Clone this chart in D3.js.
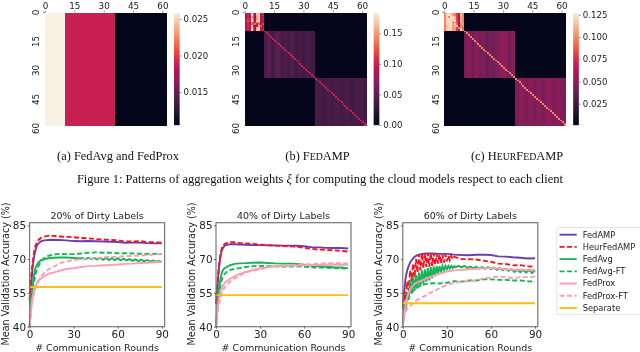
<!DOCTYPE html>
<html>
<head>
<meta charset="utf-8">
<script src="https://cdn.jsdelivr.net/npm/d3@7"></script>
<style>
  html, body { margin: 0; padding: 0; background: #fff; overflow: hidden; }
  svg { display: block; filter: blur(0.35px); }
  text { fill: #222; }
  .serif { font-family: "Liberation Serif", serif; fill: #111; }
  .sans { font-family: "DejaVu Sans", sans-serif; }
  .tick text { font-family: "DejaVu Sans", sans-serif; fill: #222; }
</style>
</head>
<body>
<div id="fig"></div>
<script>
// ---- heatmap data (62 clients, three blocks 0-10, 10-36, 36-62)
var blockEdges = [0, 10, 36, 62];
var heatTicks = [0, 15, 30, 45, 60];
var rocketStops = ["#03051a", "#221331", "#451c47", "#6a1f56", "#921c5b", "#b91657", "#dc2f4a", "#f06043", "#f6906b", "#f7bf9f", "#faebdd"];

var fedavgWeights = [0.026, 0.0188, 0.0105];
var fedavgDomain = [0.0105, 0.0258];
var fedavgCbTicks = [0.015, 0.020, 0.025];

var fedampBlock = [
  [.09,.10,.09,.17,.12,.08,.16,.17,.09,.10],
  [.09,.10,.10,.17,.13,.08,.16,.17,.09,.10],
  [.08,.10,.09,.15,.12,.07,.15,.17,.08,.09],
  [.09,.11,.10,.17,.12,.08,.15,.17,.09,.10],
  [.10,.12,.10,.18,.13,.09,.16,.18,.09,.09],
  [.08,.10,.09,.13,.09,.11,.15,.13,.08,.08],
  [.08,.11,.08,.13,.12,.13,.10,.13,.08,.12],
  [.09,.10,.10,.17,.10,.07,.09,.16,.12,.08],
  [.09,.10,.09,.17,.12,.08,.16,.17,.09,.10],
  [.09,.10,.09,.17,.12,.08,.16,.17,.09,.10]
];
var fedampCols = [.039,.041,.047,.035,.040,.045,.041,.037,.035,.041,.039,.043,.049,.039,.035,.041,.051,.045,.039,.035,.041,.039,.035,.043,.041,.035,
  .035,.037,.039,.036,.033,.038,.040,.035,.034,.037,.039,.036,.038,.035,.034,.037,.039,.038,.035,.036,.039,.040,.037,.035,.038,.036,.039,.037,.035,.034,.036,.038,.037,.039,.036,.035];
var fedampDiag = 0.098;
var fedampDomain = [0, 0.183];
var fedampCbTicks = [0, 0.05, 0.10, 0.15];

var heurBlock = [
  [.095,.115,.12,.12,.105,.10,.08,.06,.11,.10],
  [.10,.12,.125,.12,.105,.095,.08,.065,.115,.10],
  [.10,.12,.10,.125,.12,.11,.08,.06,.11,.10],
  [.10,.12,.125,.12,.125,.11,.08,.06,.11,.10],
  [.10,.12,.125,.12,.115,.125,.085,.065,.11,.10],
  [.10,.12,.12,.125,.10,.095,.085,.06,.11,.10],
  [.10,.115,.12,.125,.105,.12,.09,.055,.10,.105],
  [.095,.115,.12,.125,.105,.11,.12,.06,.095,.10],
  [.10,.115,.12,.12,.105,.105,.08,.10,.105,.09],
  [.10,.115,.12,.12,.105,.105,.08,.06,.125,.10]
];
var heurCols = [.044,.040,.042,.038,.046,.044,.040,.042,.048,.046,.042,.046,.050,.044,.040,.046,.050,.046,.042,.044,.046,.040,.038,.044,.042,.040,
  .044,.046,.048,.050,.052,.048,.044,.042,.046,.048,.046,.044,.050,.052,.048,.046,.044,.050,.048,.046,.044,.048,.050,.046,.044,.046,.048,.052,.050,.046,.044,.048,.050,.046,.044,.046];
var heurDiag = 0.098;
var heurDomain = [0.001, 0.127];
var heurCbTicks = [0.025, 0.050, 0.075, 0.100, 0.125];

// ---- accuracy curves
var rounds = [0,1,2,3,4,5,6,8,10,13,16,20,25,30,35,40,45,50,55,60,65,70,75,80,85,90];
var roundsEnds = [0, 90];
var tailRounds = d3.range(36, 91, 2);
var roundsAvg20 = rounds.slice(0, 15).concat(tailRounds);
var roundsAvg60 = d3.range(0, 36).concat(tailRounds);
var roundsHeur60 = d3.range(0, 36).concat([40,45,50,55,60,65,70,75,80,85,90]);

var seriesNames = ["FedAMP", "HeurFedAMP", "FedAvg", "FedAvg-FT", "FedProx", "FedProx-FT", "Separate"];
var seriesColors = ["#6a3db5", "#f5141e", "#17b455", "#17b455", "#ff9db4", "#ff9db4", "#ffbf0f"];
var seriesDash = [null, "5,2.5", null, "5,2.5", null, "5,2.5", null];
var panelTitles = ["20% of Dirty Labels", "40% of Dirty Labels", "60% of Dirty Labels"];
var xTicks = [0, 30, 60, 90];
var yTicks = [40, 55, 70, 85];

var amp20 = [51,58,66,71,74,76,77,78,78.3,78.5,78.6,78.5,78.3,78,77.9,78,77.9,77.8,77.7,77.6,77.2,77.3,77.3,77.1,77,77];
var heur20 = [52,62,68,73,76,77.5,78.5,79.5,80,80.4,80.3,80,79.9,79.7,79.4,79.2,78.9,78.7,78.5,78.3,77.8,77.8,78,77.5,77.5,77.2];
var avg20 = [40,52,58,63,66,67.5,68.5,69.7,70,70.4,70.6,70.7,70.7,70.5,70.3,
  70.6,70,70.6,70,70.5,69.9,70.6,69.7,70.5,69.6,70.4,69.5,70.4,69.4,70.2,69.4,70,69.2,69.9,69.1,69.8,69,69.6,68.9,69.4,68.9,69.2,68.8];
var avgFt20 = [40,50,56,60,63,65.5,67,69,70.5,71.5,72,72.3,72.2,72.2,72.5,72.8,73,72.8,72.8,72.6,72.6,72.5,72.4,72.3,72.3,72.2];
var prox20 = [40,48,53,56,58,59.5,60.5,61.5,62.5,63.5,64,64.8,65.6,66,66.5,66.9,67,67.3,67.4,67.6,67.9,68,68.3,68.4,68.6,68.8];
var proxFt20 = [40,47,52,55,57,58.5,60,62.5,64,65.5,66.5,68,69,69.5,70,70.3,70.4,70.8,71,71,71.3,71.4,71.5,71.8,72,72.4];
var sep20 = [57.6, 57.6];

var amp40 = [50,58,66,71,74,75.2,76,76.4,76.6,76.6,76.5,76.4,76.2,76.2,76.1,76.1,76,76,75.9,75.7,75.3,75.2,75,74.9,74.9,74.7];
var heur40 = [50,60,67,72,75,76.3,76.8,77.3,77.5,77.5,77.2,77,76.8,76.4,76.2,76,75.8,75.7,75.5,75,74.6,74.2,74.1,73.9,73.7,73.3];
var avg40 = [40,50,57,61,64,65.5,66,66.8,67.4,67.9,68.1,68.2,68.4,68.5,68.3,68.1,68,68,67.9,67.5,67,66.8,66.6,66.4,66.3,66];
var avgFt40 = [40,48,54,58,61,62.5,63.5,64.8,65.2,65.7,66,66.5,66.8,67,66.9,66.8,66.7,66.7,66.8,66.6,66.4,66.2,66.2,66,65.9,65.8];
var prox40 = [40,48,52,55,57,58.5,59.5,60.5,61.5,62.5,63.3,64.3,65.2,66,66.4,66.9,67,67.1,67.1,67.3,67.4,67.4,67.5,67.6,67.5,67.5];
var proxFt40 = [40,46,50,53,55,56.5,57.5,59,60.3,61.5,62.7,64,65,65.5,66.3,66.8,67,67.2,67.4,67.6,67.7,68,68.1,68.2,68.3,68];
var sep40 = [54, 54];

var amp60 = [48,56,62,65,67,68.5,69.5,71,71.8,72.3,72.5,72.5,72.3,72.3,72,71.8,71.7,71.9,72,71.8,71.2,71.1,70.8,70.6,70.3,70.4];
var heur60 = [48,56,52,60,56,65,60,68,62,70,64,72,65,72.5,66,72.5,66.5,72.5,66.5,72.5,67,72.5,67.5,72.3,68,72,68,72,68.5,72,69,71.5,69.5,71.5,70,71,
  70,70,69.8,69.3,68.8,68,67.8,67.2,67.3,66.8,66.6];
var avg60 = [40,50,47,55,52,60,55,62,56,63,57,64,58,65,59,65.5,60,66,60.5,66.5,61.5,66.8,62.5,67,63.5,67,64,67,65,67,65.5,67,65.8,67,66,66.8,
  66.4,67,66.3,67,66,66.7,66,66.6,65.8,66.5,65.7,66.4,65.5,66.2,65.2,66,65,65.8,64.8,65.5,64.3,65.3,64.2,65.2,64,65.2,63.8,65];
var avgFt60 = [42,46,49,51,53,54,55,56.5,57.5,58.5,59,59.3,59.2,59.5,60.2,60,60.5,60.5,61,61,60.8,60.8,60.5,60.5,60.2,60];
var prox60 = [40,46,50,53,55,56.5,57.5,59,59.8,60.5,61.5,62.3,63.5,64.5,65,65.2,65.5,65.7,66,66,65.8,65.5,65.3,65.3,65.2,65.3];
var proxFt60 = [40,45,47,48,48.5,49,50,51,52,53,54,55.5,57,58.5,59.5,60,60.2,60.5,61.5,61.8,62.3,62,61.5,62,62,62.2];
var sep60 = [50.4, 50.4];

var svg = d3.select("#fig").append("svg").attr("width", 640).attr("height", 352);

function rocket(domain) {
  var n = rocketStops.length - 1;
  return d3.scaleLinear()
    .domain(rocketStops.map(function(c, i) { return domain[0] + (domain[1] - domain[0]) * i / n; }))
    .range(rocketStops);
}

function blockOf(i) {
  return d3.bisectRight(blockEdges, i) - 1;
}

// value of a heatmap cell for the two weighted methods
function blockValue(block, cols, diag, r, c) {
  if (r < 10 && c < 10) return block[r][c];
  if (blockOf(r) != blockOf(c)) return 0.001;
  if (r == c) return diag;
  return cols[c];
}

function drawHeatmap(left, cellValue, domain, cbTicks, cbFormat) {
  var top = 12.5, bottom = 125, w = 121.3;
  var x = d3.scaleLinear().domain([0, 62]).range([left, left + w]);
  var y = d3.scaleLinear().domain([0, 62]).range([top, bottom]);
  var color = rocket(domain);
  var g = svg.append("g").attr("shape-rendering", "crispEdges");

  var cells = [];
  d3.range(62).forEach(function(r) {
    d3.range(62).forEach(function(c) { cells.push({ r: r, c: c, v: cellValue(r, c) }); });
  });
  g.selectAll("rect").data(cells).enter().append("rect")
    .attr("x", function(d) { return x(d.c); })
    .attr("y", function(d) { return y(d.r); })
    .attr("width", x(1) - x(0) + 0.5)
    .attr("height", y(1) - y(0) + 0.5)
    .attr("fill", function(d) { return color(d.v); });

  // top axis, labels only sit above the map
  var xAxis = svg.append("g").attr("transform", "translate(0," + top + ")")
    .call(d3.axisTop(x).tickValues(heatTicks).tickSize(2).tickPadding(2));
  xAxis.select(".domain").remove();
  xAxis.selectAll("text").style("font-size", "8.8px");
  xAxis.selectAll("line").attr("stroke", "#444").attr("stroke-width", 0.6);

  // the row labels of the original are spaced wider than the rows
  var yLabels = d3.scaleLinear().domain([0, 60]).range([12, 128]);
  var yAxis = svg.append("g").attr("transform", "translate(" + left + ",0)")
    .call(d3.axisLeft(yLabels).tickValues(heatTicks).tickSize(2).tickPadding(3));
  yAxis.select(".domain").remove();
  yAxis.selectAll("line").attr("stroke", function(d) { return d == 0 ? "#444" : "none"; }).attr("stroke-width", 0.6);
  yAxis.selectAll("text")
    .style("font-size", "8.8px")
    .attr("text-anchor", "middle")
    .attr("x", -8.5).attr("y", 0).attr("dy", "0.32em")
    .attr("transform", "rotate(-90,-8.5,0)");

  // colorbar
  var cbLeft = left + 129, cbW = 5.6;
  var cb = d3.scaleLinear().domain(domain).range([bottom, 13]);
  var steps = d3.range(0, 112);
  svg.append("g").selectAll("rect").data(steps).enter().append("rect")
    .attr("x", cbLeft).attr("width", cbW)
    .attr("y", function(i) { return 13 + i; })
    .attr("height", 1.2)
    .attr("fill", function(i) { return color(cb.invert(13 + i + 0.5)); });
  var cbAxis = svg.append("g").attr("transform", "translate(" + (cbLeft + cbW) + ",0)")
    .call(d3.axisRight(cb).tickValues(cbTicks).tickFormat(d3.format(cbFormat)).tickSize(2).tickPadding(2));
  cbAxis.select(".domain").remove();
  cbAxis.selectAll("text").style("font-size", "8.6px");
  cbAxis.selectAll("line").attr("stroke", "#444").attr("stroke-width", 0.6);
}

function drawPanel(p) {
  var top = 222.7, bottom = 326.7;
  var x = d3.scaleLinear().domain([0, 90]).range([p.left, p.left + 132.2]);
  var y = d3.scaleLinear().domain([40, 85]).range([bottom, 225.3]);
  var right = p.left + 135;
  var line = d3.line()
    .x(function(d) { return x(d[0]); })
    .y(function(d) { return y(d[1]); });

  p.curves.forEach(function(c, i) {
    svg.append("path")
      .attr("d", line(d3.zip(c.rounds, c.values)))
      .attr("fill", "none")
      .attr("stroke", seriesColors[i])
      .attr("stroke-width", 1.9)
      .attr("stroke-dasharray", seriesDash[i]);
  });

  svg.append("rect")
    .attr("x", p.left).attr("y", top)
    .attr("width", right - p.left).attr("height", bottom - top)
    .attr("fill", "none").attr("stroke", "#777").attr("stroke-width", 1.2);

  var xAxis = svg.append("g").attr("transform", "translate(0," + bottom + ")")
    .call(d3.axisBottom(x).tickValues(xTicks).tickSize(2).tickPadding(1.5));
  var yAxis = svg.append("g").attr("transform", "translate(" + p.left + ",0)")
    .call(d3.axisLeft(y).tickValues(yTicks).tickSize(2).tickPadding(1.5));
  [xAxis, yAxis].forEach(function(a) {
    a.select(".domain").remove();
    a.selectAll("text").style("font-size", "10.4px");
    a.selectAll("line").attr("stroke", "#333").attr("stroke-width", 0.7);
  });

  svg.append("text").attr("class", "sans")
    .attr("x", (p.left + right) / 2).attr("y", 219)
    .attr("text-anchor", "middle").style("font-size", "9.5px")
    .text(p.title);
  svg.append("text").attr("class", "sans")
    .attr("x", (p.left + right) / 2).attr("y", 351)
    .attr("text-anchor", "middle").style("font-size", "9.5px")
    .text("# Communication Rounds");
  svg.append("text").attr("class", "sans")
    .attr("transform", "translate(" + p.yLabelX + ",274) rotate(-90)")
    .attr("text-anchor", "middle").style("font-size", "9.6px")
    .text("Mean Validation Accuracy (%)");
}

drawHeatmap(45, function(r, c) { return fedavgWeights[blockOf(c)]; }, fedavgDomain, fedavgCbTicks, ".3f");
drawHeatmap(244.7, function(r, c) { return blockValue(fedampBlock, fedampCols, fedampDiag, r, c); }, fedampDomain, fedampCbTicks, ".2f");
drawHeatmap(444.2, function(r, c) { return blockValue(heurBlock, heurCols, heurDiag, r, c); }, heurDomain, heurCbTicks, ".3f");

drawPanel({ left: 29.6, title: panelTitles[0], yLabelX: 8.5, curves: [
  { rounds: rounds, values: amp20 }, { rounds: rounds, values: heur20 },
  { rounds: roundsAvg20, values: avg20 }, { rounds: rounds, values: avgFt20 },
  { rounds: rounds, values: prox20 }, { rounds: rounds, values: proxFt20 },
  { rounds: roundsEnds, values: sep20 }] });
drawPanel({ left: 216, title: panelTitles[1], yLabelX: 195, curves: [
  { rounds: rounds, values: amp40 }, { rounds: rounds, values: heur40 },
  { rounds: rounds, values: avg40 }, { rounds: rounds, values: avgFt40 },
  { rounds: rounds, values: prox40 }, { rounds: rounds, values: proxFt40 },
  { rounds: roundsEnds, values: sep40 }] });
drawPanel({ left: 402.8, title: panelTitles[2], yLabelX: 381.5, curves: [
  { rounds: rounds, values: amp60 }, { rounds: roundsHeur60, values: heur60 },
  { rounds: roundsAvg60, values: avg60 }, { rounds: rounds, values: avgFt60 },
  { rounds: rounds, values: prox60 }, { rounds: rounds, values: proxFt60 },
  { rounds: roundsEnds, values: sep60 }] });

// legend
var legend = svg.append("g");
legend.append("rect")
  .attr("x", 556.8).attr("y", 227.5).attr("width", 90).attr("height", 87)
  .attr("rx", 1.5).attr("fill", "#fff").attr("stroke", "#ddd").attr("stroke-width", 0.8);
var legendY = d3.scalePoint().domain(seriesNames).range([234.7, 308]);
seriesNames.forEach(function(name, i) {
  legend.append("line")
    .attr("x1", 559.5).attr("x2", 576.7)
    .attr("y1", legendY(name)).attr("y2", legendY(name))
    .attr("stroke", seriesColors[i]).attr("stroke-width", 1.9)
    .attr("stroke-dasharray", seriesDash[i]);
  legend.append("text").attr("class", "sans")
    .attr("x", 582.7).attr("y", legendY(name)).attr("dy", "0.35em")
    .style("font-size", "8.3px")
    .text(name);
});

// captions
function caption(cx, y, parts) {
  var t = svg.append("text").attr("class", "serif")
    .attr("x", cx).attr("y", y).attr("text-anchor", "middle")
    .style("font-size", "12.4px");
  parts.forEach(function(s) {
    t.append("tspan").style("font-size", s[1] ? "9.8px" : null).text(s[0]);
  });
}
caption(118, 160, [["(a) FedAvg and FedProx", 0]]);
caption(317.5, 160, [["(b) F", 0], ["ED", 1], ["AMP", 0]]);
caption(517, 160, [["(c) H", 0], ["EUR", 1], ["F", 0], ["ED", 1], ["AMP", 0]]);

var fig = svg.append("text").attr("class", "serif")
  .attr("x", 320).attr("y", 183).attr("text-anchor", "middle")
  .style("font-size", "12.5px");
fig.append("tspan").text("Figure 1: Patterns of aggregation weights ");
fig.append("tspan").style("font-style", "italic").text("ξ");
fig.append("tspan").text(" for computing the cloud models respect to each client");
</script>
</body>
</html>
